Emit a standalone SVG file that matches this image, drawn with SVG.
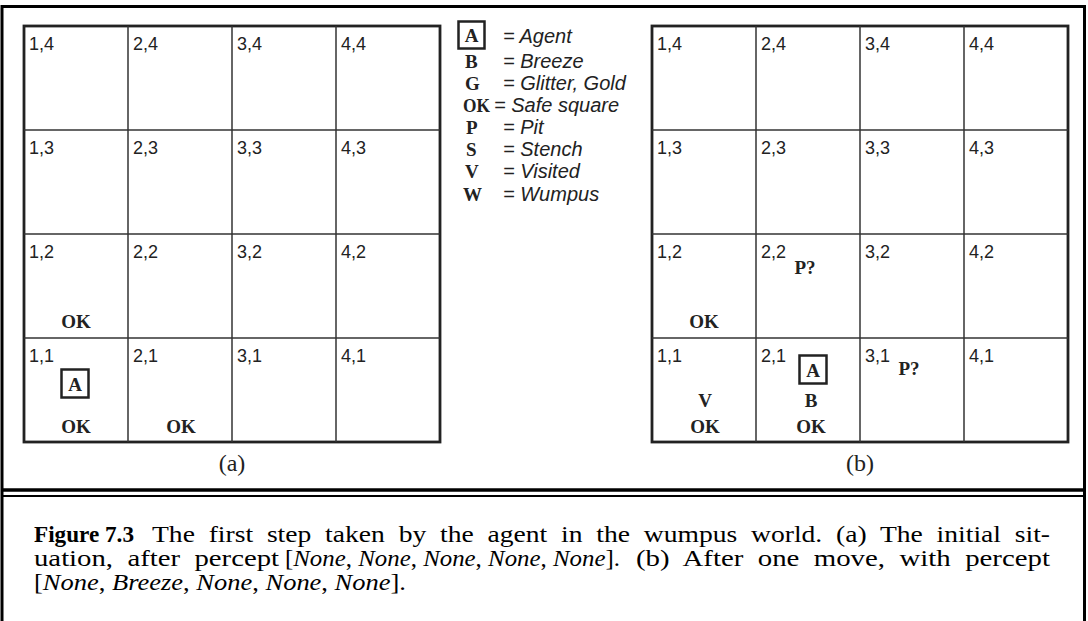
<svg xmlns="http://www.w3.org/2000/svg" width="1088" height="621" viewBox="0 0 1088 621">
<style>
.frame{fill:none;stroke:#000;stroke-width:3}
.gout{fill:none;stroke:#222;stroke-width:2.8}
.gin{stroke:#333;stroke-width:1.5}
.lbl{font-family:"Liberation Sans",Arial,sans-serif;font-size:18px;fill:#222}
.b{font-family:"Liberation Serif","Times New Roman",serif;font-weight:bold;font-size:19px;fill:#222}
.bc{font-family:"Liberation Serif","Times New Roman",serif;font-weight:bold;font-size:19px;fill:#222;text-anchor:middle}
.box{fill:#fff;stroke:#222;stroke-width:2.5}
.leg{font-family:"Liberation Sans",Arial,sans-serif;font-style:italic;font-size:20px;fill:#222}
.cap{font-family:"Liberation Serif","Times New Roman",serif;font-size:24px;fill:#000;word-spacing:6px}
.it{font-style:italic}
.pl{font-family:"Liberation Serif","Times New Roman",serif;font-size:24px;fill:#222;text-anchor:middle}
</style>
<rect width="1088" height="621" fill="#fff"/>
<g id="frame">
<path class="frame" d="M2,623 V6.5 H1084.5 V623"/>
<line x1="2" y1="490" x2="1084.5" y2="490" stroke="#000" stroke-width="3.5"/>
<line x1="2" y1="496" x2="1084.5" y2="496" stroke="#000" stroke-width="2"/>
</g>
<g id="grid-a">
<rect class="gout" x="24" y="26" width="416" height="416"/>
<line class="gin" x1="128" y1="26" x2="128" y2="442"/>
<line class="gin" x1="232" y1="26" x2="232" y2="442"/>
<line class="gin" x1="336" y1="26" x2="336" y2="442"/>
<line class="gin" x1="24" y1="130" x2="440" y2="130"/>
<line class="gin" x1="24" y1="234" x2="440" y2="234"/>
<line class="gin" x1="24" y1="338" x2="440" y2="338"/>
<text class="lbl" x="29" y="50">1,4</text><text class="lbl" x="133" y="50">2,4</text><text class="lbl" x="237" y="50">3,4</text><text class="lbl" x="341" y="50">4,4</text>
<text class="lbl" x="29" y="154">1,3</text><text class="lbl" x="133" y="154">2,3</text><text class="lbl" x="237" y="154">3,3</text><text class="lbl" x="341" y="154">4,3</text>
<text class="lbl" x="29" y="258">1,2</text><text class="lbl" x="133" y="258">2,2</text><text class="lbl" x="237" y="258">3,2</text><text class="lbl" x="341" y="258">4,2</text>
<text class="lbl" x="29" y="362">1,1</text><text class="lbl" x="133" y="362">2,1</text><text class="lbl" x="237" y="362">3,1</text><text class="lbl" x="341" y="362">4,1</text>
<text class="bc" x="76" y="328">OK</text>
<rect class="box" x="61.5" y="369.5" width="27" height="28"/>
<text class="bc" x="75" y="391">A</text>
<text class="bc" x="76" y="433">OK</text>
<text class="bc" x="181" y="433">OK</text>
</g>
<g id="legend">
<rect class="box" x="458.5" y="21.5" width="26" height="27"/>
<text class="bc" x="471.5" y="42">A</text><text class="leg" x="503" y="43">= Agent</text>
<text class="b" x="465" y="68">B</text><text class="leg" x="503" y="68">= Breeze</text>
<text class="b" x="465" y="90">G</text><text class="leg" x="503" y="90">= Glitter, Gold</text>
<text class="b" x="463" y="112" textLength="27" lengthAdjust="spacingAndGlyphs">OK</text><text class="leg" x="494" y="112">= Safe square</text>
<text class="b" x="466" y="134">P</text><text class="leg" x="503" y="134">= Pit</text>
<text class="b" x="466" y="156">S</text><text class="leg" x="503" y="156">= Stench</text>
<text class="b" x="465" y="178">V</text><text class="leg" x="503" y="178">= Visited</text>
<text class="b" x="463" y="201">W</text><text class="leg" x="503" y="201">= Wumpus</text>
</g>
<g id="grid-b">
<rect class="gout" x="652" y="26" width="416" height="416"/>
<line class="gin" x1="756" y1="26" x2="756" y2="442"/>
<line class="gin" x1="860" y1="26" x2="860" y2="442"/>
<line class="gin" x1="964" y1="26" x2="964" y2="442"/>
<line class="gin" x1="652" y1="130" x2="1068" y2="130"/>
<line class="gin" x1="652" y1="234" x2="1068" y2="234"/>
<line class="gin" x1="652" y1="338" x2="1068" y2="338"/>
<text class="lbl" x="657" y="50">1,4</text><text class="lbl" x="761" y="50">2,4</text><text class="lbl" x="865" y="50">3,4</text><text class="lbl" x="969" y="50">4,4</text>
<text class="lbl" x="657" y="154">1,3</text><text class="lbl" x="761" y="154">2,3</text><text class="lbl" x="865" y="154">3,3</text><text class="lbl" x="969" y="154">4,3</text>
<text class="lbl" x="657" y="258">1,2</text><text class="lbl" x="761" y="258">2,2</text><text class="lbl" x="865" y="258">3,2</text><text class="lbl" x="969" y="258">4,2</text>
<text class="lbl" x="657" y="362">1,1</text><text class="lbl" x="761" y="362">2,1</text><text class="lbl" x="865" y="362">3,1</text><text class="lbl" x="969" y="362">4,1</text>
<text class="bc" x="704" y="328">OK</text>
<text class="bc" x="805" y="274">P?</text>
<text class="bc" x="705" y="407">V</text>
<text class="bc" x="705" y="433">OK</text>
<rect class="box" x="799.5" y="355.5" width="27" height="28"/>
<text class="bc" x="813" y="377">A</text>
<text class="bc" x="811" y="407">B</text>
<text class="bc" x="811" y="433">OK</text>
<text class="bc" x="909" y="375">P?</text>
</g>
<g id="panel-labels">
<text class="pl" x="232" y="471">(a)</text>
<text class="pl" x="860" y="471">(b)</text>
</g>
<g id="caption">
<text class="cap" x="34" y="542" font-weight="bold" textLength="100" lengthAdjust="spacingAndGlyphs" style="word-spacing:0">Figure 7.3</text>
<text class="cap" x="152" y="542" textLength="898" lengthAdjust="spacingAndGlyphs">The first step taken by the agent in the wumpus world. (a) The initial sit-</text>
<text class="cap" x="34" y="566" textLength="245" lengthAdjust="spacingAndGlyphs">uation, after percept</text>
<text class="cap" x="285" y="566" textLength="335" lengthAdjust="spacingAndGlyphs" style="word-spacing:0">[<tspan class="it">None</tspan>, <tspan class="it">None</tspan>, <tspan class="it">None</tspan>, <tspan class="it">None</tspan>, <tspan class="it">None</tspan>].</text>
<text class="cap" x="636" y="566" textLength="414" lengthAdjust="spacingAndGlyphs">(b) After one move, with percept</text>
<text class="cap" x="34" y="590" textLength="372" lengthAdjust="spacingAndGlyphs" style="word-spacing:0">[<tspan class="it">None</tspan>, <tspan class="it">Breeze</tspan>, <tspan class="it">None</tspan>, <tspan class="it">None</tspan>, <tspan class="it">None</tspan>].</text>
</g>
</svg>
